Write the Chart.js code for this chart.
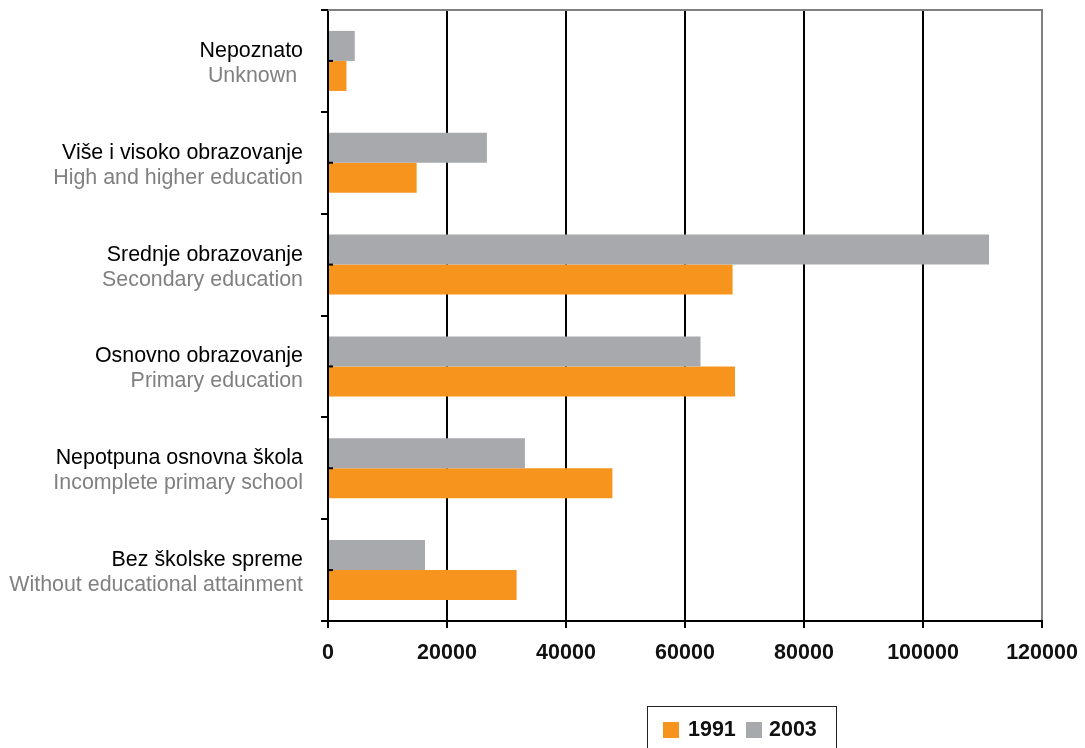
<!DOCTYPE html>
<html>
<head>
<meta charset="utf-8">
<script src="https://cdn.jsdelivr.net/npm/chart.js@4.4.1/dist/chart.umd.min.js"></script>
<style>
    html, body { margin: 0; padding: 0; background: #fff; overflow: hidden; }
    #wrap { position: relative; width: 1085px; height: 748px; }
    #legend {
        position: absolute; left: 647px; top: 706px; width: 190px; height: 50px;
        border: 1px solid #222; box-sizing: border-box;
        font: bold 21.5px "Liberation Sans", Arial, sans-serif; color: #111;
    }
    #legend span.box { position: absolute; top: 15px; width: 16px; height: 16px; }
    #legend span.txt { position: absolute; top: 10px; }
</style>
</head>
<body>
<div id="wrap">
    <canvas id="myChart" width="1085" height="748"></canvas>
    <div id="legend"></div>
</div>
<script>
const categories = ["Nepoznato", "Više i visoko obrazovanje", "Srednje obrazovanje",
    "Osnovno obrazovanje", "Nepotpuna osnovna škola", "Bez školske spreme"];
const categoriesEn = ["Unknown ", "High and higher education", "Secondary education",
    "Primary education", "Incomplete primary school", "Without educational attainment"];
const values2003 = [4500, 26700, 111100, 62600, 33100, 16300];
const values1991 = [3100, 14900, 68000, 68400, 47800, 31700];
const xTicks = [0, 20000, 40000, 60000, 80000, 100000, 120000];

const ORANGE = "#f7941e";
const GRAY = "#a7a9ac";
const FONT = '"Liberation Sans", Arial, sans-serif';

function init() {

    const labelPlugin = {
        id: "twoLineLabels",
        afterDraw(chart) {
            const ctx = chart.ctx;
            const y = chart.scales.y;
            const area = chart.chartArea;
            ctx.save();
            ctx.font = "21.4px " + FONT;
            ctx.textAlign = "right";
            ctx.textBaseline = "alphabetic";
            categories.forEach((c, i) => {
                const cy = y.getPixelForTick(i);
                ctx.fillStyle = "#000";
                ctx.fillText(c, 303, cy - 4);
                ctx.fillStyle = "#808080";
                ctx.fillText(categoriesEn[i], 303, cy + 21);
                // small inner tick at band centre
                ctx.strokeStyle = "#000";
                ctx.lineWidth = 2;
                ctx.beginPath();
                ctx.moveTo(area.left, cy);
                ctx.lineTo(area.left + 5, cy);
                ctx.stroke();
            });
            // gray top border
            ctx.strokeStyle = "#808080";
            ctx.lineWidth = 2;
            ctx.beginPath();
            ctx.moveTo(area.left, area.top);
            ctx.lineTo(area.right + 1, area.top);
            ctx.stroke();
            ctx.restore();
        }
    };

    const ctx = document.getElementById("myChart");

    new Chart(ctx, {
        type: "bar",
        data: {
            labels: categories,
            datasets: [
                {
                    label: "2003",
                    data: values2003,
                    backgroundColor: GRAY,
                    categoryPercentage: 0.59,
                    barPercentage: 1.0,
                },
                {
                    label: "1991",
                    data: values1991,
                    backgroundColor: ORANGE,
                    categoryPercentage: 0.59,
                    barPercentage: 1.0,
                },
            ]
        },
        plugins: [labelPlugin],
        options: {
            indexAxis: "y",
            responsive: false,
            animation: false,
            layout: { padding: { top: 10, right: 43, left: 0, bottom: 0 } },
            elements: { bar: { borderWidth: 0 } },
            plugins: {
                legend: { display: false },
                title: { display: false },
                tooltip: { enabled: false }
            },
            scales: {
                x: {
                    min: 0,
                    max: 120000,
                    afterBuildTicks: (scale) => {
                        scale.ticks = xTicks.map(v => ({ value: v }));
                    },
                    afterFit: (scale) => {
                        scale.height = 127;
                        scale.paddingLeft = 0;
                        scale.paddingRight = 0;
                    },
                    border: { color: "#000", width: 2 },
                    grid: {
                        color: (c) => (c.tick && c.tick.value === 120000) ? "#808080" : "#000",
                        tickColor: "#000",
                        lineWidth: 2,
                        drawTicks: true,
                        tickLength: 7,
                    },
                    ticks: {
                        color: "#111",
                        padding: 12,
                        maxRotation: 0,
                        font: { family: FONT, size: 21.5, weight: "bold" },
                        callback: (v) => String(v)
                    }
                },
                y: {
                    afterFit: (scale) => { scale.width = 328; },
                    border: { color: "#000", width: 2 },
                    grid: {
                        offset: true,
                        drawOnChartArea: false,
                        drawTicks: true,
                        tickLength: 7,
                        color: "#000",
                        lineWidth: 2
                    },
                    ticks: { display: false }
                }
            }
        },
    });

    // legend: 1991 first, then 2003
    const legend = document.getElementById("legend");
    const items = [["1991", ORANGE, 15, 40], ["2003", GRAY, 98, 121]];
    items.forEach(([label, color, bx, tx]) => {
        const b = document.createElement("span");
        b.className = "box";
        b.style.left = bx + "px";
        b.style.background = color;
        legend.appendChild(b);
        const t = document.createElement("span");
        t.className = "txt";
        t.style.left = tx + "px";
        t.textContent = label;
        legend.appendChild(t);
    });
}

window.onload = () => {
    init();
};
</script>
</body>
</html>
